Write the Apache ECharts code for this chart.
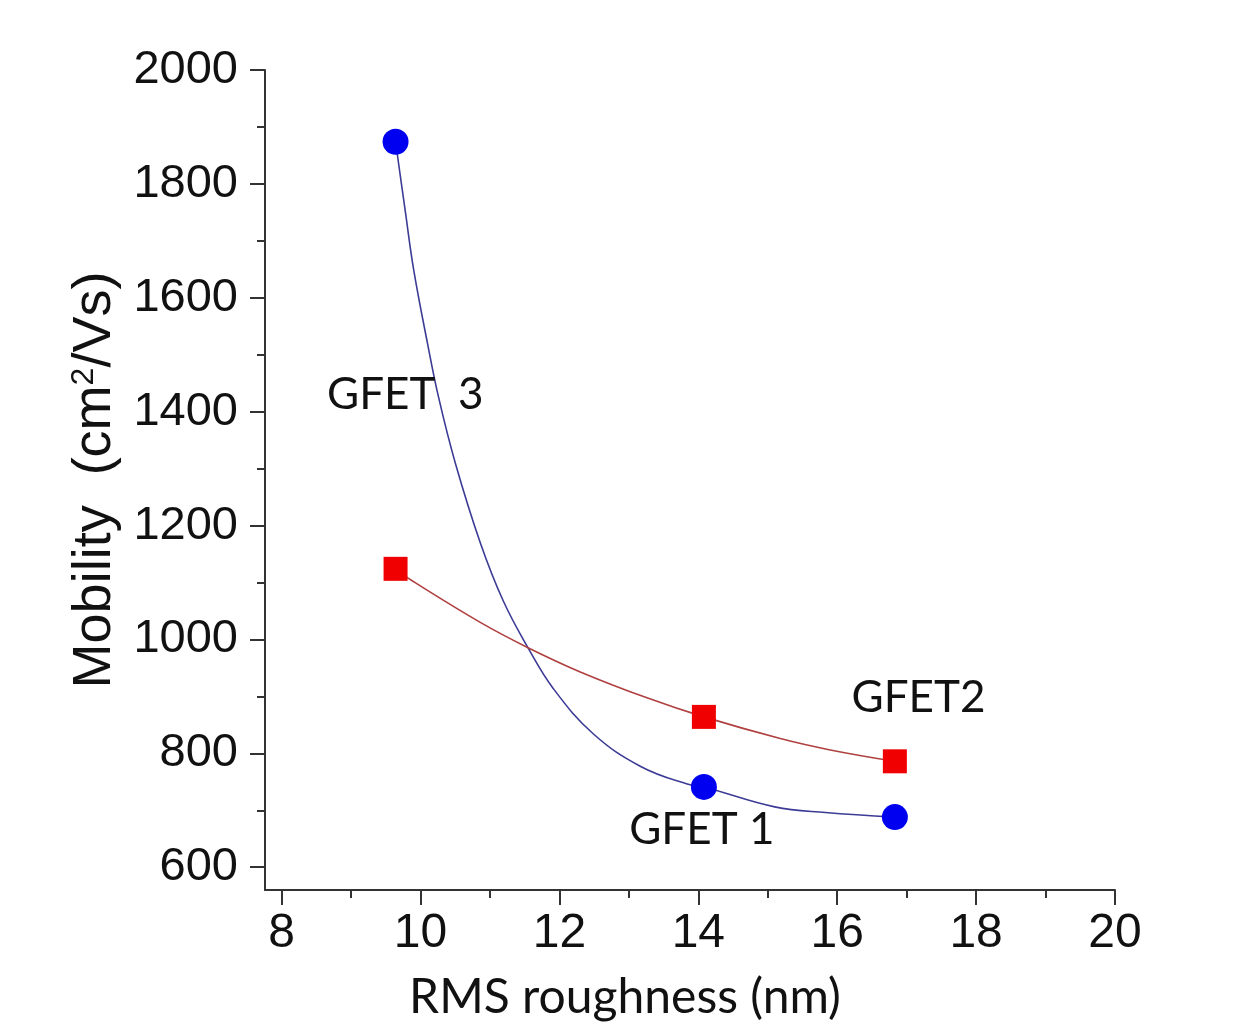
<!DOCTYPE html>
<html>
<head>
<meta charset="utf-8">
<script src="https://cdn.jsdelivr.net/npm/echarts@6/dist/echarts.min.js"></script>
<style>
  html, body { margin: 0; padding: 0; background: #fff; }
  #chart { width: 1233px; height: 1027px; }
</style>
</head>
<body>
<div id="chart"></div>
<script>
// ticks
const xTickValues = [8, 10, 12, 14, 16, 18, 20]
const xMinorTicks = [9, 11, 13, 15, 17, 19]
const yTickValues = [600, 800, 1000, 1200, 1400, 1600, 1800, 2000]
const yMinorTicks = [700, 900, 1100, 1300, 1500, 1700, 1900]

// measured points
const roughness = [9.64, 14.08, 16.83]
const mobilityCircles = [1874, 741, 688]
const mobilitySquares = [1124, 864, 786]

// fitted curves
const circleFitX = [9.64, 9.78, 9.9, 10.1, 10.26, 10.5, 10.86, 11.19, 11.54, 11.91, 12.49, 13.17, 13.84, 14.08, 15.1, 15.83, 16.83]
const circleFitY = [1874, 1752, 1650, 1520, 1425, 1310, 1170, 1068, 987, 914, 834, 777, 746, 741, 706, 696, 688]
const squareFitX = [9.64, 9.88, 10.86, 11.54, 12.3, 13.27, 14.08, 15.18, 15.9, 16.83]
const squareFitY = [1124, 1103, 1030, 986, 943, 897, 864, 826, 806, 786]

// device labels
const deviceNames = ['GFET  3', 'GFET2', 'GFET 1']
const deviceLabelX = [9.78, 17.17, 14.05]
const deviceLabelY = [1429, 897, 665]

const zip = (xs, ys) => xs.map((x, i) => [x, ys[i]])

const chart = echarts.init(document.getElementById('chart'))

const axisColor = '#333'
const textColor = '#111'
const tickFont = 'Liberation Sans, Arial, sans-serif'

const option = {
    backgroundColor: '#fff',
    animation: false,
    grid: { left: 265, right: 118, top: 70, bottom: 137 },
    xAxis: [
        {
            type: 'value', min: 7.76, max: 20,
            splitLine: { show: false },
            axisLine: { lineStyle: { color: axisColor, width: 2 } },
            axisTick: { inside: false, customValues: xTickValues, length: 15, lineStyle: { color: axisColor, width: 2 } },
            axisLabel: { customValues: xTickValues, margin: 20, fontSize: 48, color: textColor, fontFamily: tickFont, formatter: (v) => String(v) },
            name: 'RMS roughness (nm)',
            nameLocation: 'middle',
            nameGap: 84,
            nameTextStyle: { fontSize: 48, color: textColor, fontFamily: 'Lato, sans-serif', padding: [0, 130, 0, 0] }
        },
        {
            type: 'value', min: 7.76, max: 20, position: 'bottom', offset: 0,
            splitLine: { show: false },
            axisLine: { show: false },
            axisTick: { inside: false, customValues: xMinorTicks, length: 8, lineStyle: { color: axisColor, width: 2 } },
            axisLabel: { show: false }
        }
    ],
    yAxis: [
        {
            type: 'value', min: 560, max: 2000,
            splitLine: { show: false },
            axisLine: { show: true, lineStyle: { color: axisColor, width: 2 } },
            axisTick: { show: true, inside: false, customValues: yTickValues, length: 15, lineStyle: { color: axisColor, width: 2 } },
            axisLabel: { customValues: yTickValues, margin: 27, fontSize: 47, color: textColor, fontFamily: tickFont, formatter: (v) => String(v) },
            name: 'Mobility  (cm{sup|2}/Vs)',
            nameLocation: 'middle',
            nameGap: 138,
            nameTextStyle: {
                fontSize: 54, color: textColor, fontFamily: tickFont,
                rich: { sup: { fontSize: 32, verticalAlign: 'top', padding: [0, 0, 22, 0], color: textColor, fontFamily: tickFont } }
            }
        },
        {
            type: 'value', min: 560, max: 2000, position: 'left', offset: 0,
            splitLine: { show: false },
            axisLine: { show: false },
            axisTick: { show: true, inside: false, customValues: yMinorTicks, length: 8, lineStyle: { color: axisColor, width: 2 } },
            axisLabel: { show: false }
        }
    ],
    series: [
        {
            type: 'line', smooth: 0.4, showSymbol: false, z: 1,
            data: zip(circleFitX, circleFitY),
            lineStyle: { color: '#3c3c96', width: 1.6 }
        },
        {
            type: 'line', smooth: 0.4, showSymbol: false, z: 1,
            data: zip(squareFitX, squareFitY),
            lineStyle: { color: '#b04040', width: 1.6 }
        },
        {
            type: 'scatter', symbol: 'circle', symbolSize: 26, z: 3,
            data: zip(roughness, mobilityCircles),
            itemStyle: { color: '#0000f0', opacity: 1 }
        },
        {
            type: 'scatter', symbol: 'rect', symbolSize: 24, z: 3,
            data: zip(roughness, mobilitySquares),
            itemStyle: { color: '#f00000', opacity: 1 }
        },
        {
            type: 'scatter', symbolSize: 1, z: 4, silent: true,
            itemStyle: { color: 'rgba(0,0,0,0)', opacity: 1 },
            data: deviceNames.map((n, i) => ({ name: n, value: [deviceLabelX[i], deviceLabelY[i]] })),
            label: {
                show: true, position: 'inside',
                formatter: (p) => p.name,
                fontSize: 44, color: textColor, fontFamily: 'Lato, sans-serif'
            }
        }
    ]
}

chart.setOption(option)
</script>
</body>
</html>
